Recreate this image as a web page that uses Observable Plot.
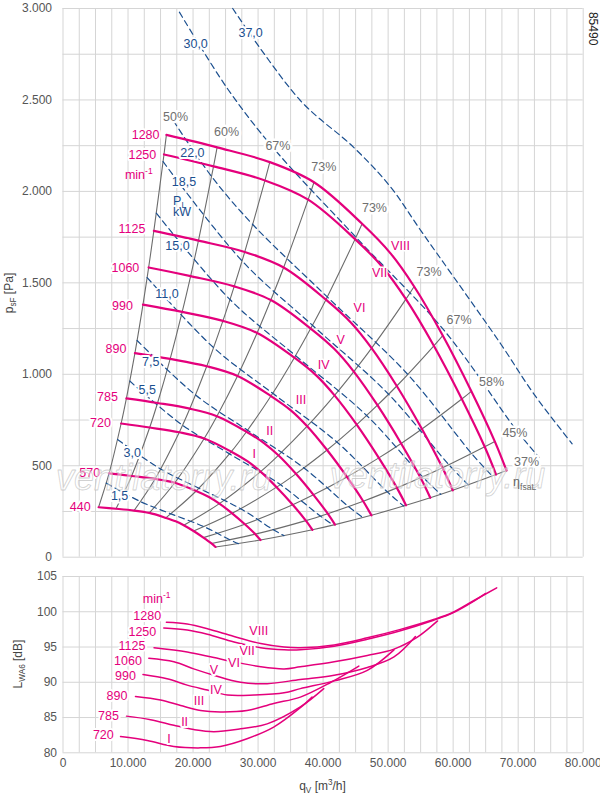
<!DOCTYPE html>
<html><head><meta charset="utf-8">
<script src="https://cdn.jsdelivr.net/npm/d3@7"></script>
<script src="https://cdn.jsdelivr.net/npm/@observablehq/plot@0.6"></script>
<style>
body{margin:0;background:#fff;}
#wrap{position:relative;width:600px;height:796px;}
#wrap svg{position:absolute;left:0;overflow:visible;}
</style></head><body><div id="wrap"></div>
<script>
// ---------- data ----------
const speeds = [1280,1250,1125,1060,990,890,785,720,570,440];
const q_1280=[15900,23700,31800,38600,46000,50400,54000,58400,62800,66400,68200];
const p_1280=[2309,2241,2160,2050,1823,1660,1480,1212,907,633,474];
const q_1250=[15530,23150,31060,37700,44920,49220,52740,57030,61330,64850,66600];
const p_1250=[2202,2137,2060,1955,1739,1583,1411,1156,865,604,452];
const q_1125=[13970,20830,27950,33930,40430,44300,47460,51330,55200,58360,59940];
const p_1125=[1784,1731,1669,1584,1408,1282,1143,936,701,489,366];
const q_1060=[13170,19630,26330,31960,38090,41740,44720,48360,52000,54990,56480];
const p_1060=[1584,1537,1481,1406,1250,1138,1015,831,622,434,325];
const q_990=[12300,18330,24590,29850,35580,38980,41760,45170,48570,51350,52750];
const p_990=[1381,1341,1292,1226,1091,993,885,725,543,379,284];
const q_890=[11060,16480,22110,26840,31980,35040,37550,40610,43670,46170,47420];
const p_890=[1116,1084,1044,991,881,803,716,586,439,306,229];
const q_785=[9750,14540,19500,23670,28210,30910,33120,35820,38520,40720,41830];
const p_785=[868,843,812,771,686,624,557,456,341,238,178];
const q_720=[8940,13330,17890,21710,25880,28350,30380,32850,35330,37350,38360];
const p_720=[731,709,683,649,577,525,468,383,287,200,150];
const q_570=[7080,10550,14160,17190,20480,22440,24050,26010,27970,29570,30370];
const p_570=[458,444,428,407,362,329,293,240,180,126,94];
const q_440=[5470,8150,10930,13270,15810,17330,18570,20080,21590,22830,23450];
const p_440=[273,265,255,242,215,196,175,143,107,75,56];

// efficiency (system) lines: index of the point on every speed curve
const effIdx = [0,1,2,3,4,6,7,8,9,10];
const effLabels = ["50%","60%","67%","73%","73%","73%","67%","58%","45%","37%"];
const effLabelQ = [17300,25150,33050,40100,47900,56300,60900,65900,69500,71300];
const effLabelP = [2405,2323,2247,2136,1910,1562,1298,960,678,519];

// shaft power lines P_L [kW]
const plNames = ["1,5","3,0","5,5","7,5","11,0","15,0","18,5","22,0","30,0","37,0"];
const pl_1_5=[[6660,405],[11920,304],[16600,237],[21680,167],[25670,95],[26960,74]];
const pl_3_0=[[8390,643],[15020,482],[20920,377],[27310,265],[32350,150],[33970,118]];
const pl_5_5=[[10270,963],[18380,722],[25600,565],[33420,397],[39580,225],[41580,176]];
const pl_7_5=[[11390,1185],[20380,887],[28390,694],[37060,488],[43900,277],[46110,217]];
const pl_11_0=[[12940,1529],[23160,1146],[32250,896],[42110,630],[49880,357],[52390,280]];
const pl_15_0=[[14350,1881],[25680,1409],[35760,1102],[46690,775],[55310,439],[58090,344]];
const pl_18_5=[[15390,2163],[27540,1620],[38360,1268],[50070,891],[59330,506],[62310,396]];
const pl_22_0=[[17000,2385],[22840,2082],[29180,1819],[40640,1423],[53030,999],[62840,567],[66010,444]];
const pl_30_0=[[17900,2980],[25330,2560],[32360,2237],[45060,1749],[58840,1230],[69680,697],[73200,546]];
const pl_37_0=[[26100,3000],[36500,2497],[44700,2241],[50400,2023],[55000,1787],[60100,1531],[67300,1167],[72400,893],[78300,620]];
const plLabelQ=[8700,10650,12950,13500,16000,17600,18600,19900,20400,28850];
const plLabelP=[332,569,915,1066,1440,1700,2050,2208,2808,2868];

// speed labels (top)
const speedLabelQ=[12700,12200,10600,9600,9150,8150,6850,5770,4120,2650];
const speedLabelP=[2311,2201,1797,1582,1372,1136,875,733,461,273];
const romans=["VIII","VII","VI","V","IV","III","II","I"];
const romanQ=[51900,48700,45600,42700,40100,36600,31800,29400];
const romanP=[1699,1556,1365,1190,1052,862,689,565];

// sound power level L_WA6 [dB]
const soundSpeeds=[1280,1250,1125,1060,990,890,785,720];
const L_1280=[[15900,98.5],[19100,98.25],[22200,97.6],[26300,96.5],[30400,95.5],[34000,95.0],[36500,94.9],[41700,95.3],[46800,96.3],[51900,97.5],[57000,98.9],[59900,99.9],[63200,101.6],[66700,103.4]];
const L_1250=[[15500,97.7],[19100,97.4],[22200,96.8],[26300,95.7],[30400,94.9],[34000,94.6],[36500,94.6],[41700,95.1],[46800,96.1],[51900,97.3],[57000,98.8],[59900,99.8],[63200,101.5],[65000,102.6]];
const L_1125=[[14000,94.9],[19100,94.3],[23200,93.5],[26300,92.9],[30400,92.2],[34000,91.9],[36500,92.2],[41700,92.9],[46800,93.8],[50900,94.7],[54500,96.4],[57600,98.7]];
const L_1060=[[13200,93.4],[17050,92.9],[20100,91.9],[23200,91.0],[27300,90.0],[31400,89.8],[36500,90.4],[41700,91.0],[46800,92.1],[50900,93.6],[54200,96.5]];
const L_990=[[12300,91.1],[16000,90.5],[19100,89.6],[22200,88.9],[25300,88.2],[29400,88.2],[34000,88.5],[36500,89.1],[41700,90.2],[46800,91.7],[50900,94.6]];
const L_890=[[11150,88.0],[15000,87.5],[18100,86.7],[21150,86.0],[24200,85.8],[28300,86.0],[32400,87.0],[36500,87.9],[41200,90.0],[45500,92.3]];
const L_785=[[9770,85.2],[13460,84.7],[17050,83.9],[20100,83.3],[23200,83.0],[27300,83.4],[31400,84.1],[36500,86.5],[40100,89.1]];
const L_720=[[8850,82.3],[12950,81.75],[17050,80.9],[21150,80.7],[24200,80.9],[28300,82.0],[32400,83.65],[36500,86.4],[38300,87.9]];
const soundLabelQ=[12950,12200,10600,10000,9600,8300,7000,6200];
const soundLabelL=[99.4,97.2,95.1,93.0,90.9,88.0,85.2,82.5];
const soundRomanQ=[30100,28300,26300,23200,23500,20900,18700,16300];
const soundRomanL=[97.3,94.45,92.75,91.8,88.96,87.3,84.35,81.9];

// ticks
const xTicks=[0,10000,20000,30000,40000,50000,60000,70000,80000];
const yTicksTop=[0,500,1000,1500,2000,2500,3000];
const dbTicks=[80,85,90,95,100,105];
const watermarkQ=[15500,57600], watermarkP=[430,441];

// ---------- tables ----------
const qs=[q_1280,q_1250,q_1125,q_1060,q_990,q_890,q_785,q_720,q_570,q_440];
const ps=[p_1280,p_1250,p_1125,p_1060,p_990,p_890,p_785,p_720,p_570,p_440];
const speedRows=[]; speeds.forEach((n,i)=>qs[i].forEach((q,j)=>speedRows.push({n,q,p:ps[i][j]})));
const grayRows=[]; effIdx.forEach((j,k)=>{for(let i=speeds.length-1;i>=0;i--) grayRows.push({k,q:qs[i][j],p:ps[i][j]});});
const plAll=[pl_1_5,pl_3_0,pl_5_5,pl_7_5,pl_11_0,pl_15_0,pl_18_5,pl_22_0,pl_30_0,pl_37_0];
const plRows=[]; plAll.forEach((pts,k)=>pts.forEach(([q,p])=>plRows.push({k,q,p})));
const Ls=[L_1280,L_1250,L_1125,L_1060,L_990,L_890,L_785,L_720];
const soundRows=[]; soundSpeeds.forEach((n,i)=>Ls[i].forEach(([q,L])=>soundRows.push({n,q,L})));

const MAG="#e4007c", BLUE="#1b4f8f", GRAY="#6c6c6c", GRID="#d5d5d5", TXT="#555";
const FONT="'Liberation Sans', Arial, Helvetica, sans-serif";
const fmt=d=>d3.format(",")(d).replace(/,/g,".");
const idx=a=>a.map((_,i)=>i);

const topPlot=Plot.plot({
  width:600,height:565,marginLeft:62.5,marginRight:17.3,marginTop:8,marginBottom:8.3,
  style:{fontFamily:FONT,fontSize:"12px",background:"transparent",overflow:"visible"},
  x:{domain:[0,80000],axis:null},
  y:{domain:[0,3000],axis:null},
  marks:[
    Plot.ruleX(d3.range(0,80001,2500),{stroke:GRID,strokeWidth:1}),
    Plot.ruleY(d3.range(0,3001,250),{stroke:GRID,strokeWidth:1}),
    Plot.axisY({ticks:yTicksTop,tickSize:0,tickPadding:11,tickFormat:fmt,color:TXT,fontSize:12,label:null}),
    Plot.line(grayRows,{x:"q",y:"p",z:"k",stroke:GRAY,strokeWidth:1.1,curve:"catmull-rom"}),
    Plot.line(plRows,{x:"q",y:"p",z:"k",stroke:BLUE,strokeWidth:1.2,strokeDasharray:"6,4",curve:"catmull-rom"}),
    Plot.line(speedRows,{x:"q",y:"p",z:"n",stroke:MAG,strokeWidth:2.2,curve:"catmull-rom"}),
    Plot.text(idx(effLabels),{x:i=>effLabelQ[i],y:i=>effLabelP[i],text:i=>effLabels[i],fill:"#707070",stroke:"white",strokeWidth:5,fontSize:12.5}),
    Plot.text(idx(plNames),{x:i=>plLabelQ[i],y:i=>plLabelP[i],text:i=>plNames[i],fill:BLUE,stroke:"white",strokeWidth:4,fontSize:12.5}),
    Plot.text([0],{x:18300,y:1886,text:()=>"kW",fill:BLUE,stroke:"white",strokeWidth:3,fontSize:12.5}),
    Plot.text(idx(speeds),{x:i=>speedLabelQ[i],y:i=>speedLabelP[i],text:i=>String(speeds[i]),fill:MAG,stroke:"white",strokeWidth:4,fontSize:12.5}),
    Plot.text(idx(romans),{x:i=>romanQ[i],y:i=>romanP[i],text:i=>romans[i],fill:MAG,stroke:"white",strokeWidth:3,fontSize:12.5}),
    Plot.text(idx(watermarkQ),{x:i=>watermarkQ[i],y:i=>watermarkP[i],text:()=>"ventilatorry.ru",fontSize:36,fontStyle:"italic",fill:"white",fillOpacity:0.45,stroke:"#bdbdbd",strokeOpacity:0.7,strokeWidth:0.8,paintOrder:"fill"}),
    Plot.text([0],{x:81460,y:2890,text:()=>"85490",rotate:90,fill:"#222",fontSize:12})
  ]
});

const botPlot=Plot.plot({
  width:600,height:231,marginLeft:62.5,marginRight:17.3,marginTop:11,marginBottom:43.7,
  style:{fontFamily:FONT,fontSize:"12px",background:"transparent",overflow:"visible"},
  x:{domain:[0,80000],axis:null},
  y:{domain:[80,105],axis:null},
  marks:[
    Plot.ruleX(d3.range(0,80001,2500),{stroke:GRID,strokeWidth:1}),
    Plot.ruleY(dbTicks,{stroke:GRID,strokeWidth:1}),
    Plot.axisY({ticks:dbTicks,tickSize:0,tickPadding:6,color:TXT,fontSize:12,label:null}),
    Plot.axisX({ticks:xTicks,tickSize:0,tickPadding:6,tickFormat:fmt,color:TXT,fontSize:12,label:null}),
    Plot.line(soundRows,{x:"q",y:"L",z:"n",stroke:MAG,strokeWidth:1.5,curve:"catmull-rom"}),
    Plot.text(idx(soundSpeeds),{x:i=>soundLabelQ[i],y:i=>soundLabelL[i],text:i=>String(soundSpeeds[i]),fill:MAG,stroke:"white",strokeWidth:4,fontSize:12.5}),
    Plot.text(idx(romans),{x:i=>soundRomanQ[i],y:i=>soundRomanL[i],text:i=>romans[i],fill:MAG,stroke:"white",strokeWidth:4,fontSize:12.5})
  ]
});

const wrap=document.getElementById("wrap");
topPlot.style.top="0px"; botPlot.style.top="565px";
wrap.appendChild(topPlot); wrap.appendChild(botPlot);

function rich(svg,x,y,parts,{anchor="start",rotate=0,size=12,fill=TXT}={}){
  const t=d3.select(svg).append("text")
    .attr("transform",`translate(${x},${y})`+(rotate?` rotate(${rotate})`:""))
    .attr("text-anchor",anchor).attr("font-size",size).attr("fill",fill).attr("font-family",FONT);
  let cur=0;
  parts.forEach(([s,kind])=>{
    const target=kind==="sub"?size*0.28:kind==="sup"?-size*0.4:0;
    const ts=t.append("tspan").text(s).attr("dy",target-cur);
    if(kind) ts.attr("font-size",size*0.68);
    cur=target;
  });
  return t;
}
const tx=topPlot.scale("x"), ty=topPlot.scale("y");
const bx=botPlot.scale("x"), by=botPlot.scale("y");
rich(topPlot,13,293,[["p"],["sF","sub"],[" [Pa]"]],{anchor:"middle",rotate:-90,fill:"#444"});
rich(topPlot,tx.apply(17000),ty.apply(1925),[["P"],["L","sub"]],{fill:BLUE,size:12.5});
rich(topPlot,tx.apply(69300),ty.apply(385),[["η"],["fsaL","sub"]],{fill:"#666",size:12.5});
rich(topPlot,tx.apply(9600),ty.apply(2065),[["min"],["-1","sup"]],{fill:MAG,size:12.5});
rich(botPlot,22,99,[["L"],["WA6","sub"],[" [dB]"]],{anchor:"middle",rotate:-90,fill:"#444"});
rich(botPlot,bx.apply(12350),by.apply(101.2),[["min"],["-1","sup"]],{fill:MAG,size:12.5});
rich(botPlot,322.5,225,[["q"],["V","sub"],[" [m"],["3","sup"],["/h]"]],{anchor:"middle",fill:"#444"});
</script></body></html>
